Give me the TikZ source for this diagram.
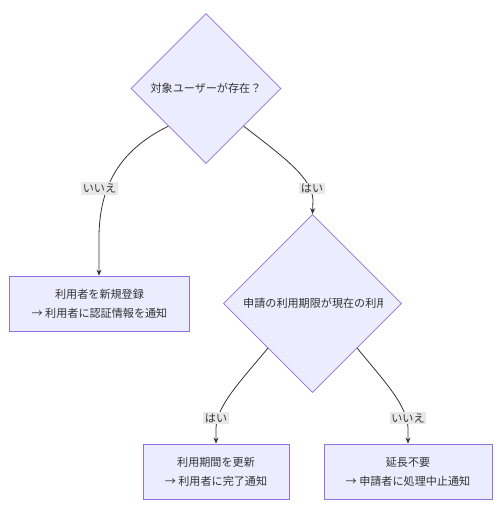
\documentclass[tikz,border=0pt]{standalone}
\usepackage{fontspec}
\setmainfont{Noto Sans CJK JP}
\usetikzlibrary{shapes.geometric,arrows.meta}
\definecolor{nfill}{HTML}{ECECFF}
\definecolor{nstroke}{HTML}{9370DB}
\definecolor{txt}{HTML}{333333}
\definecolor{lblbg}{HTML}{E8E8E8}
\tikzset{
  x=1pt,y=-1pt,
  dec/.style={diamond,draw=nstroke,fill=nfill,line width=0.8pt,inner sep=0pt},
  box/.style={rectangle,draw=nstroke,fill=nfill,line width=0.8pt,minimum height=55pt,align=center,text=txt,font=\fontsize{11.1}{19}\selectfont},
  elbl/.style={fill=lblbg,text=txt,inner sep=1.5pt,font=\fontsize{11.1}{13}\selectfont},
  edge/.style={draw=txt,line width=0.8pt,-{Stealth[length=6pt,width=5pt]}},
  dtext/.style={text=txt,font=\fontsize{11.1}{13}\selectfont,inner sep=0pt}
}
\begin{document}
\begin{tikzpicture}
\useasboundingbox (0,0) rectangle (500,506);
\node[dec,minimum width=150pt,minimum height=150pt] (d1) at (206,88.5) {};
\node[dtext] (t1) at (206,88.5) {対象ユーザーが存在？};
\node[dec,minimum width=178pt,minimum height=178pt] (d2) at (312.5,303.5) {};
\begin{scope}
\clip (240,290) rectangle (382,318);
\node[dtext,anchor=west] (t2) at (243,303.5) {申請の利用期限が現在の利用};
\end{scope}
\node[box,minimum width=180pt] (b1) at (99.5,303.5) {利用者を新規登録\\→ 利用者に認証情報を通知};
\node[box,minimum width=146pt] (b2) at (216,471.5) {利用期間を更新\\→ 利用者に完了通知};
\node[box,minimum width=168pt] (b3) at (408,471.5) {延長不要\\→ 申請者に処理中止通知};
\coordinate (c1) at (99,235);
\coordinate (c2) at (313,200);
\coordinate (c3) at (216,428);
\coordinate (c4) at (408,428);
\draw[edge] (d1.south west) .. controls (120,150) and (100,185) .. (c1) -- (b1.north -| c1);
\draw[edge] (d1.south east) .. controls (285,158) and (312,178) .. (c2) -- (d2.north);
\draw[edge] (d2.south west) .. controls (240,382) and (217,405) .. (c3) -- (b2.north -| c3);
\draw[edge] (d2.south east) .. controls (385,382) and (407,405) .. (c4) -- (b3.north -| c4);
\node[elbl] (l1) at (99.5,188.5) {いいえ};
\node[elbl] (l2) at (312,188.5) {はい};
\node[elbl] (l3) at (216,418) {はい};
\node[elbl] (l4) at (408,418) {いいえ};
\end{tikzpicture}
\end{document}
